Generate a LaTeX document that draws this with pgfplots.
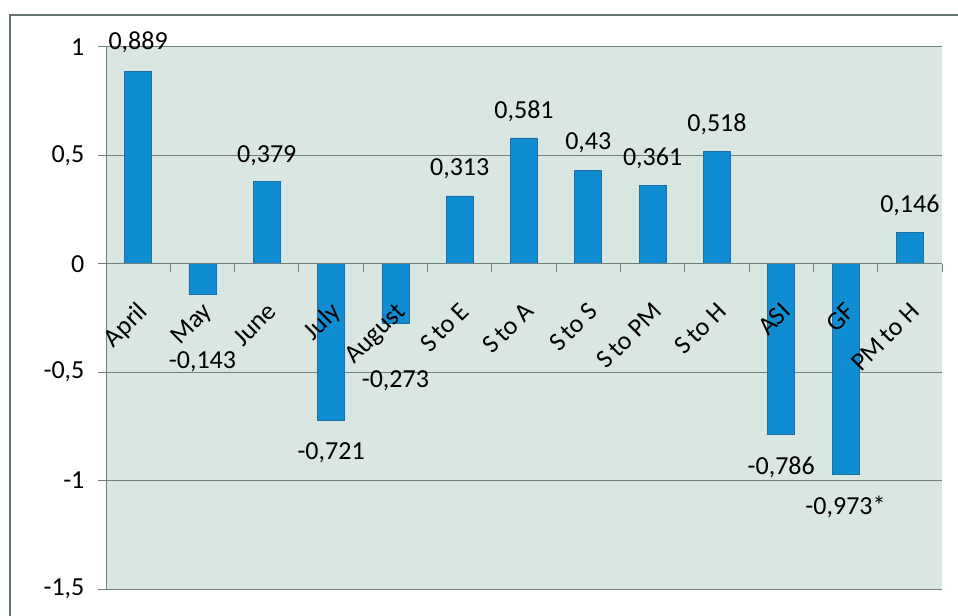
\documentclass[border=0pt]{standalone}
\usepackage{pgfplots}
\pgfplotsset{compat=1.18}
\usepackage{pgfplotstable}
\usepackage{fontspec}
\setmainfont{Carlito}

\definecolor{bgc}{HTML}{DAE6E1}
\definecolor{gridc}{HTML}{707F7C}
\definecolor{barc}{HTML}{0E8DD3}
\definecolor{bare}{HTML}{1D6EA6}
\definecolor{framec}{HTML}{637572}
\newcommand\lbl{\fontsize{19.5}{23}\selectfont}

% tick labels above the bars, grid below them
\pgfplotsset{
    layers/labels on top/.define layer set={
        axis background,axis grid,main,axis ticks,axis lines,
        axis tick labels,axis descriptions,axis foreground
    }{/pgfplots/layers/standard},
}

% correlation per category, label text, label offset (px)
\pgfplotstableread{
x  y      lab        dy
0  0.889  {0,889}    29
1  -0.143 {-0,143}   -67
2  0.379  {0,379}    26
3  -0.721 {-0,721}   -33
4  -0.273 {-0,273}   -58
5  0.313  {0,313}    27
6  0.581  {0,581}    27
7  0.43   {0,43}     28
8  0.361  {0,361}    27
9  0.518  {0,518}    27
10 -0.786 {-0,786}   -33
11 -0.973 {-0,973*}  -32
12 0.146  {0,146}    27
}\corrdata

\begin{document}
\begin{tikzpicture}
    \draw[framec, line width=2pt] (7.5pt,-20pt) rectangle (740pt,450pt);
    \begin{axis}[at={(79.5pt,19.5pt)}, anchor=south west,
                set layers=labels on top,
                scale only axis,
                width=627pt, height=406.5pt,
                xmin=-0.5, xmax=12.5,
                ymin=-1.5, ymax=1,
                axis x line=middle, axis y line=left,
                hide obscured x ticks=false,
                hide obscured y ticks=false,
                axis line style={-, draw=gridc, line width=0.75pt},
                axis background/.style={fill=bgc},
                ymajorgrids,
                grid style={draw=gridc, line width=0.75pt},
                xtick={0,...,12},
                xticklabels={April, May, June, July, August, S\,to E, S\,to A,
                             S\,to S, S\,to PM, S\,to H, ASI, GF, PM\,to H},
                minor xtick={-0.5,0.5,...,12.5},
                major x tick style={draw=none},
                ytick={-1.5,-1,-0.5,0,0.5,1},
                yticklabels={{-1,5},{-1},{-0,5},{0},{0,5},{1}},
                tick align=outside,
                major tick length=6pt, minor tick length=6pt,
                tick style={draw=gridc, line width=0.75pt},
                tick label style={font=\lbl, text=black},
                xticklabel style={xshift=8.25pt, yshift=-30.75pt, rotate=45,
                                  anchor=base east, inner sep=0pt},
                yticklabel style={anchor=east, inner sep=0pt, xshift=-10pt,
                                  text width=40pt, align=right},
                ybar, bar width=20.25pt,
                clip=false]
        \addplot[fill=barc, draw=bare, line width=0.5pt,
                 nodes near coords, point meta=explicit symbolic,
                 visualization depends on={\thisrow{dy} \as \dy},
                 every node near coord/.append style={anchor=center,
                     yshift=\dy*0.75pt, font=\lbl, text=black}]
            table[x=x, y=y, meta=lab] {\corrdata};
    \end{axis}
    \pgfresetboundingbox
    \useasboundingbox (0,0) rectangle (718.5pt,461.25pt);
\end{tikzpicture}
\end{document}
